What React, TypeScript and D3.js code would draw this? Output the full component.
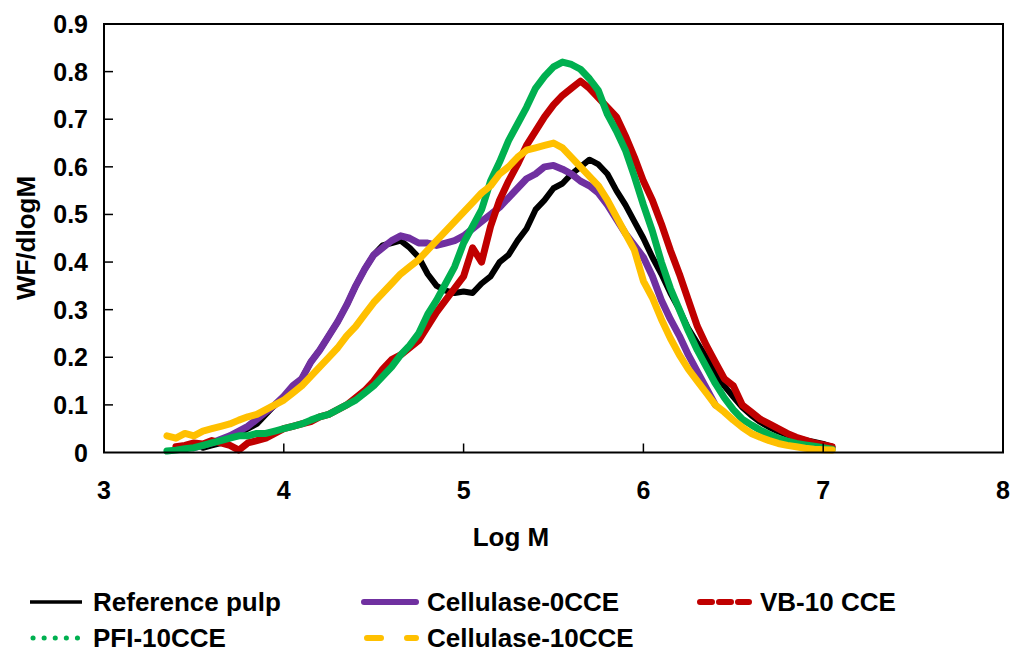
import * as d3 from "d3";

// log M grid shared by all series (null where a series has no data)
const logM = [
  3.3, 3.35, 3.4, 3.45, 3.5, 3.55, 3.6, 3.65, 3.7, 3.75, 3.8, 3.85, 3.9, 3.95,
  4.0, 4.05, 4.1, 4.15, 4.2, 4.25, 4.3, 4.35, 4.4, 4.45, 4.5, 4.55, 4.6, 4.65,
  4.7, 4.75, 4.8, 4.85, 4.9, 4.95, 5.0, 5.05, 5.1, 5.15, 5.2, 5.25, 5.3, 5.35,
  5.4, 5.45, 5.5, 5.55, 5.6, 5.65, 5.7, 5.75, 5.8, 5.85, 5.9, 5.95, 6.0, 6.05,
  6.1, 6.15, 6.2, 6.25, 6.3, 6.35, 6.4, 6.45, 6.5, 6.55, 6.6, 6.65, 6.7, 6.75,
  6.8, 6.85, 6.9, 6.95, 7.0, 7.05,
];

const referencePulp = [
  null, null, null, null, null, 0.01, 0.015, 0.02, 0.03, 0.04, 0.05, 0.06, 0.08, 0.1,
  0.115, 0.135, 0.155, 0.19, 0.215, 0.245, 0.275, 0.31, 0.35, 0.385, 0.415, 0.435, 0.44, 0.445,
  0.43, 0.41, 0.375, 0.35, 0.34, 0.335, 0.338, 0.335, 0.355, 0.37, 0.4, 0.415, 0.445, 0.47,
  0.51, 0.53, 0.555, 0.565, 0.585, 0.6, 0.615, 0.605, 0.585, 0.55, 0.52, 0.485, 0.45, 0.41,
  0.375, 0.335, 0.3, 0.26, 0.23, 0.2, 0.165, 0.14, 0.117, 0.095, 0.078, 0.064, 0.053, 0.044,
  0.037, 0.031, 0.026, 0.022, 0.018, 0.012,
];

const cellulase0 = [
  null, null, null, null, 0.01, 0.015, 0.02, 0.028, 0.035, 0.045, 0.055, 0.07, 0.085, 0.1,
  0.118, 0.14, 0.155, 0.19, 0.215, 0.245, 0.275, 0.31, 0.35, 0.385, 0.415, 0.43, 0.445, 0.455,
  0.45, 0.44, 0.44, 0.435, 0.44, 0.445, 0.455, 0.47, 0.485, 0.5, 0.515, 0.535, 0.555, 0.575,
  0.585, 0.6, 0.603, 0.595, 0.585, 0.57, 0.56, 0.545, 0.52, 0.49, 0.46, 0.435, 0.41, 0.37,
  0.32, 0.28, 0.245, 0.205, 0.17, 0.135, 0.1, null, null, null, null, null, null, null,
  null, null, null, null, null, null,
];

const vb10 = [
  null, null, 0.012, 0.015, 0.02, 0.018, 0.025, 0.02, 0.015, 0.005, 0.02, 0.025, 0.03, 0.04,
  0.05, 0.055, 0.06, 0.065, 0.075, 0.08, 0.09, 0.1, 0.115, 0.13, 0.15, 0.175, 0.195, 0.205,
  0.22, 0.235, 0.265, 0.295, 0.32, 0.345, 0.37, 0.43, 0.4, 0.475, 0.53, 0.57, 0.605, 0.645,
  0.675, 0.705, 0.73, 0.75, 0.765, 0.78, 0.765, 0.745, 0.725, 0.705, 0.665, 0.62, 0.57, 0.53,
  0.48, 0.425, 0.375, 0.32, 0.265, 0.225, 0.19, 0.155, 0.14, 0.1, 0.085, 0.07, 0.06, 0.05,
  0.04, 0.032, 0.026, 0.02, 0.016, 0.012,
];

const pfi10 = [
  null, 0.003, 0.005, 0.008, 0.01, 0.015, 0.02, 0.025, 0.03, 0.035, 0.035, 0.04, 0.04, 0.045,
  0.05, 0.055, 0.06, 0.068, 0.075, 0.08, 0.09, 0.1, 0.11, 0.125, 0.14, 0.16, 0.18, 0.205,
  0.225, 0.25, 0.29, 0.32, 0.355, 0.39, 0.44, 0.475, 0.51, 0.57, 0.61, 0.655, 0.69, 0.725,
  0.765, 0.79, 0.81, 0.82, 0.815, 0.805, 0.785, 0.76, 0.71, 0.675, 0.635, 0.58, 0.52, 0.465,
  0.4, 0.345, 0.3, 0.255, 0.215, 0.18, 0.145, 0.115, 0.09, 0.07, 0.058, 0.047, 0.038, 0.03,
  0.024, 0.019, 0.016, 0.013, 0.01, 0.007,
];

const cellulase10 = [
  null, 0.035, 0.03, 0.04, 0.035, 0.045, 0.05, 0.055, 0.06, 0.068, 0.075, 0.08, 0.09, 0.1,
  0.11, 0.125, 0.14, 0.16, 0.18, 0.2, 0.22, 0.245, 0.265, 0.29, 0.315, 0.335, 0.355, 0.375,
  0.39, 0.405, 0.425, 0.445, 0.465, 0.485, 0.505, 0.525, 0.545, 0.56, 0.585, 0.6, 0.62, 0.635,
  0.64, 0.645, 0.65, 0.64, 0.62, 0.6, 0.58, 0.56, 0.53, 0.495, 0.46, 0.425, 0.36, 0.325,
  0.28, 0.24, 0.205, 0.175, 0.15, 0.125, 0.1, 0.085, 0.068, 0.053, 0.04, 0.032, 0.025, 0.019,
  0.015, 0.012, 0.009, 0.007, 0.006, 0.005,
];

const xTicks = [3, 4, 5, 6, 7, 8];
const yTicks = [0, 0.1, 0.2, 0.3, 0.4, 0.5, 0.6, 0.7, 0.8, 0.9];

interface Series {
  name: string;
  values: (number | null)[];
  color: string;
  width: number;
  legendDash: string;
  legendWidth: number;
}

const series: Series[] = [
  { name: "Reference pulp", values: referencePulp, color: "#000000", width: 6, legendDash: "none", legendWidth: 3.5 },
  { name: "Cellulase-0CCE", values: cellulase0, color: "#7030A0", width: 7, legendDash: "none", legendWidth: 6 },
  { name: "VB-10 CCE", values: vb10, color: "#C00000", width: 7, legendDash: "12 7", legendWidth: 6 },
  { name: "PFI-10CCE", values: pfi10, color: "#00B050", width: 7, legendDash: "0.1 11", legendWidth: 5 },
  { name: "Cellulase-10CCE", values: cellulase10, color: "#FFC000", width: 7, legendDash: "14 26", legendWidth: 6 },
];

// legend slots: [x of line start, y]
const legendSlots = [
  [30, 602],
  [364, 602],
  [697, 602],
  [30, 638],
  [364, 638],
];

const font = "'Liberation Sans', Arial, Helvetica, sans-serif";

export default function App() {
  const width = 1012;
  const height = 652;
  const margin = { top: 24, right: 9, bottom: 200, left: 104 };

  const x = d3
    .scaleLinear()
    .domain([3, 8])
    .range([margin.left, width - margin.right]);
  const y = d3
    .scaleLinear()
    .domain([0, 0.9])
    .range([height - margin.bottom + 0.5, margin.top]);

  const line = d3
    .line<number | null>()
    .defined((d) => d != null)
    .x((_, i) => x(logM[i]))
    .y((d) => y(d as number));

  return (
    <svg
      width={width}
      height={height}
      style={{ position: "absolute", left: 0, top: 0, background: "#fff" }}
      fontFamily={font}
      fontWeight="bold"
    >
      {/* series, drawn in legend order so later ones sit on top */}
      {series.map((s) => (
        <path
          key={s.name}
          d={line(s.values) || ""}
          fill="none"
          stroke={s.color}
          strokeWidth={s.width}
          strokeLinejoin="round"
          strokeLinecap="round"
        />
      ))}

      {/* plot frame */}
      <rect
        x={x(3)}
        y={y(0.9)}
        width={x(8) - x(3)}
        height={y(0) - y(0.9)}
        fill="none"
        stroke="#000"
        strokeWidth={2}
      />

      {/* y axis ticks, inward */}
      {yTicks.map((t) => (
        <g key={"y" + t}>
          {t > 0 && t < 0.9 && (
            <line x1={x(3)} x2={x(3) + 9} y1={y(t)} y2={y(t)} stroke="#000" strokeWidth={1.5} />
          )}
          <text x={88} y={y(t)} dy="0.36em" textAnchor="end" fontSize={25}>
            {t === 0 ? "0" : t.toFixed(1)}
          </text>
        </g>
      ))}

      {/* x axis ticks, inward */}
      {xTicks.map((t) => (
        <g key={"x" + t}>
          {t > 3 && t < 8 && (
            <line x1={x(t)} x2={x(t)} y1={y(0)} y2={y(0) - 9} stroke="#000" strokeWidth={1.5} />
          )}
          <text x={x(t)} y={499} textAnchor="middle" fontSize={25}>
            {t}
          </text>
        </g>
      ))}

      <text x={511} y={546} textAnchor="middle" fontSize={26}>
        Log M
      </text>
      <text
        transform={`translate(35,${238}) rotate(-90)`}
        textAnchor="middle"
        fontSize={26}
      >
        WF/dlogM
      </text>

      {/* legend */}
      {series.map((s, i) => {
        const [lx, ly] = legendSlots[i];
        return (
          <g key={"lg" + s.name}>
            <line
              x1={lx + (s.legendDash === "none" ? 0 : 3)}
              x2={lx + 52}
              y1={ly}
              y2={ly}
              stroke={s.color}
              strokeWidth={s.legendWidth}
              strokeDasharray={s.legendDash}
              strokeLinecap={s.legendDash === "none" && i === 0 ? "butt" : "round"}
            />
            <text x={lx + 63} y={ly} dy="0.36em" fontSize={26}>
              {s.name}
            </text>
          </g>
        );
      })}
    </svg>
  );
}
